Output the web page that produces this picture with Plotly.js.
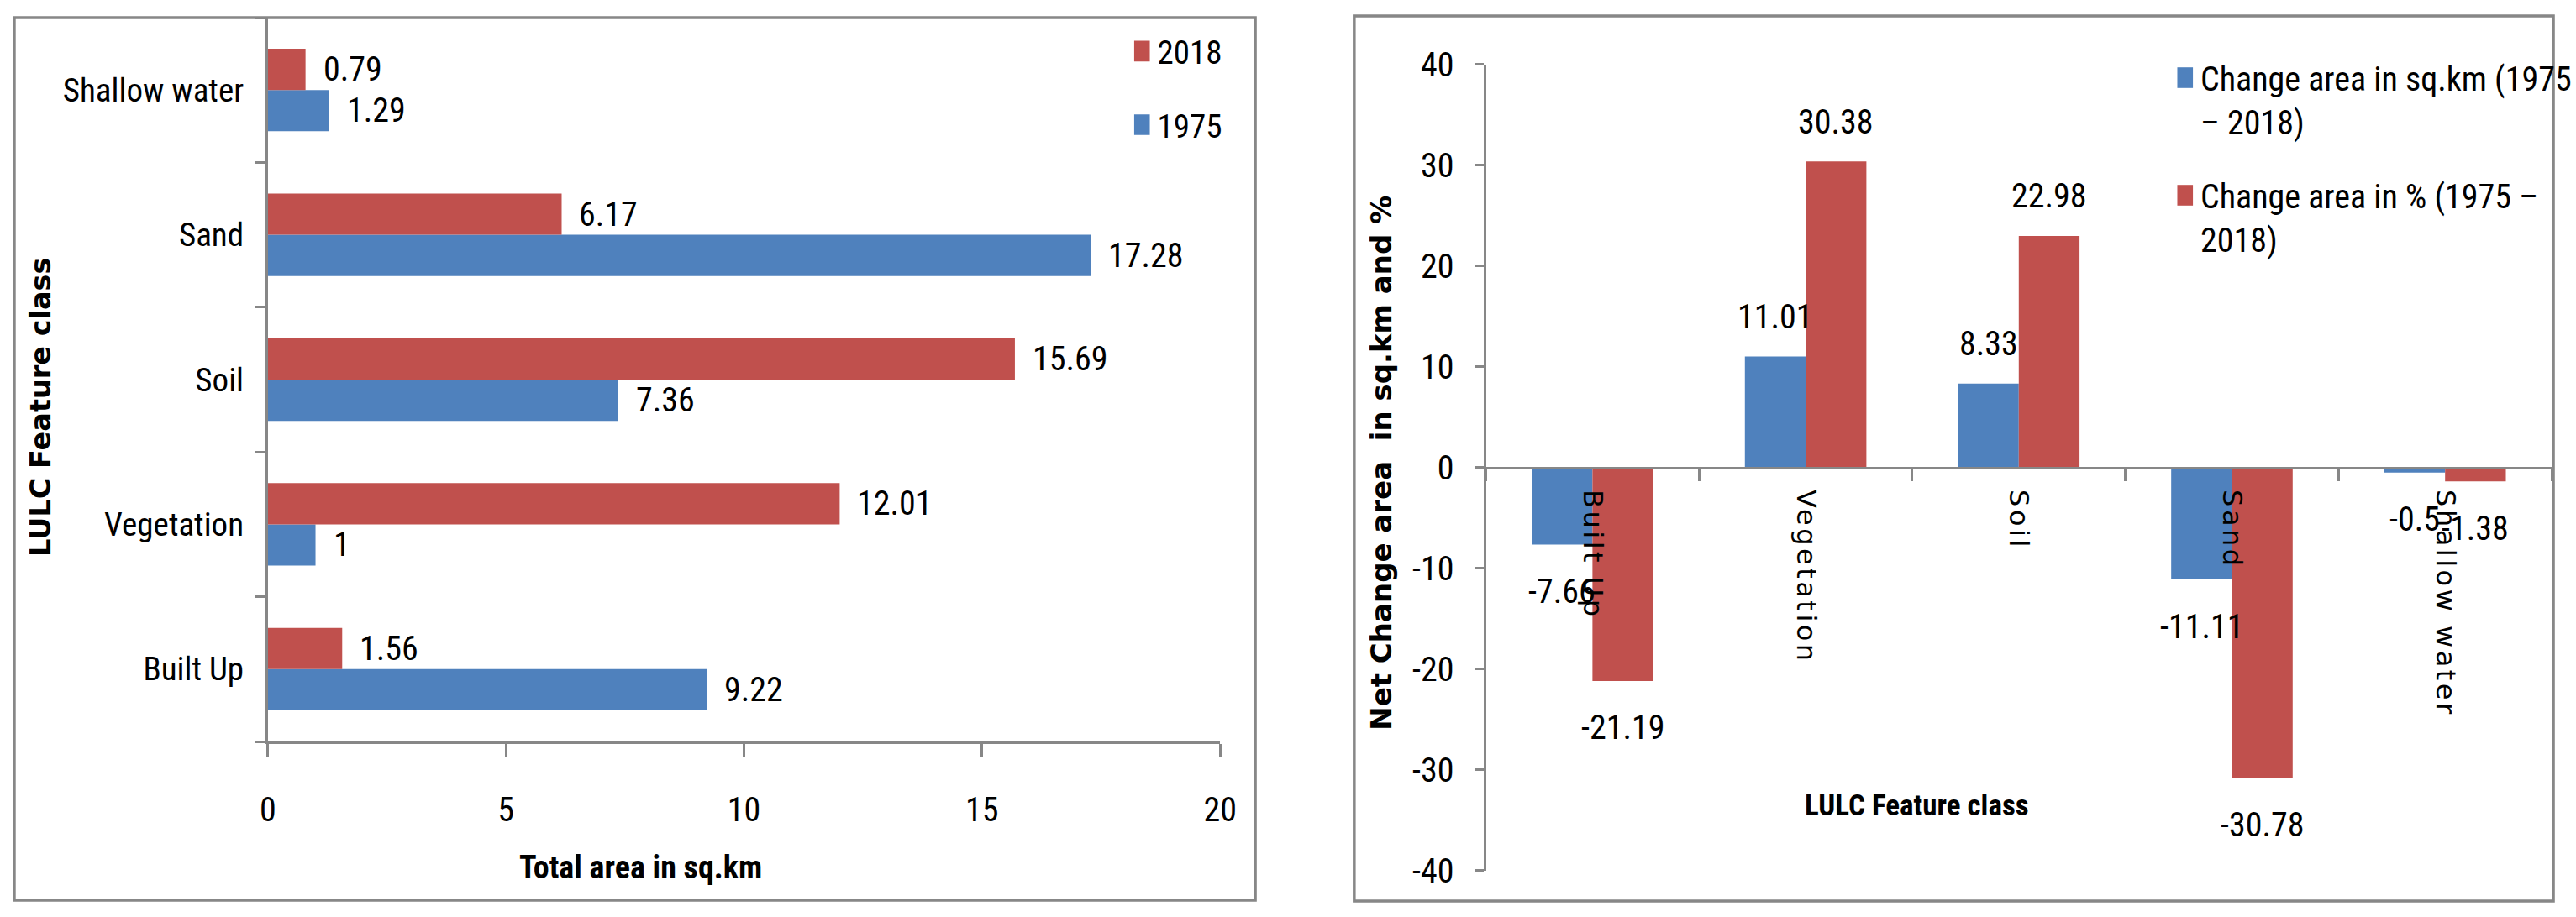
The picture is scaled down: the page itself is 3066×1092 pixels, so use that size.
<!DOCTYPE html>
<html><head><meta charset="utf-8">
<script src="https://cdn.plot.ly/plotly-3.0.1.min.js"></script>
<style>
html,body{margin:0;padding:0;background:#fff;}
#chart{width:3066px;height:1092px;}
.x2tick text{letter-spacing:3.5px;}
.legendpoints path{transform-box:fill-box;transform-origin:center;scale:1.55 2.05;}
</style></head><body><div id="chart"></div>
<script>
// ---- data ----
const categories = ["Built Up", "Vegetation", "Soil", "Sand", "Shallow water"];
const area1975 = [9.22, 1, 7.36, 17.28, 1.29];
const area2018 = [1.56, 12.01, 15.69, 6.17, 0.79];
const changeKm = [-7.66, 11.01, 8.33, -11.11, -0.5];
const changePct = [-21.19, 30.38, 22.98, -30.78, -1.38];
const leftTicks = [0, 5, 10, 15, 20];
const rightTicks = [-40, -30, -20, -10, 0, 10, 20, 30, 40];
const nameKm = "Change area in sq.km (1975<br>\u2013 2018)";
const namePct = "Change area in % (1975 \u2013<br>2018)";

// ---- style ----
const W = 3066, H = 1092;
const px = v => v / W, py = v => 1 - v / H;
const BLUE = '#4f81bd', RED = '#c0504d', AX = '#878787';
const NARROW = '"Roboto Condensed", "Noto Sans Condensed", "Liberation Sans Narrow", "DejaVu Sans Condensed", sans-serif';
const WIDE = '"DejaVu Sans", Verdana, sans-serif';
const BW = 0.43;
const off = (1 - BW) / 4;

const traces = [
  {type:'bar', orientation:'h', x:area1975, y:categories, name:'1975', marker:{color:BLUE},
   xaxis:'x', yaxis:'y', legend:'legend', legendgroup:'a', legendrank:2, hoverinfo:'skip'},
  {type:'bar', orientation:'h', x:area2018, y:categories, name:'2018', marker:{color:RED},
   xaxis:'x', yaxis:'y', legend:'legend', legendgroup:'b', legendrank:1, hoverinfo:'skip'},
  {type:'bar', x:categories, y:changeKm, name:nameKm, marker:{color:BLUE},
   xaxis:'x2', yaxis:'y2', legend:'legend2', legendgroup:'c', legendrank:1, hoverinfo:'skip'},
  {type:'bar', x:categories, y:changePct, name:namePct, marker:{color:RED},
   xaxis:'x2', yaxis:'y2', legend:'legend2', legendgroup:'d', legendrank:2, hoverinfo:'skip'}
];

const lblFont = {family:NARROW, size:40, color:'#000'};
const annotations = [];
categories.forEach((c, i) => {
  annotations.push({x:area1975[i], y:i - off, xref:'x', yref:'y', text:String(area1975[i]),
    showarrow:false, xanchor:'left', yanchor:'middle', xshift:19, font:lblFont});
  annotations.push({x:area2018[i], y:i + off, xref:'x', yref:'y', text:String(area2018[i]),
    showarrow:false, xanchor:'left', yanchor:'middle', xshift:19, font:lblFont});
  annotations.push({x:i - off, y:changeKm[i], xref:'x2', yref:'y2', text:String(changeKm[i]),
    showarrow:false, xanchor:'center', yanchor:'middle', yshift:changeKm[i] >= 0 ? 47 : -56, font:lblFont});
  annotations.push({x:i + off, y:changePct[i], xref:'x2', yref:'y2', text:String(changePct[i]),
    showarrow:false, xanchor:'center', yanchor:'middle', yshift:changePct[i] >= 0 ? 47 : -56, font:lblFont});
});
// axis titles
annotations.push({x:px(764), y:py(1033), xref:'paper', yref:'paper', text:'Total area in sq.km',
  showarrow:false, xanchor:'center', yanchor:'middle', font:{family:NARROW, size:38, weight:'bold', color:'#000'}});
annotations.push({x:px(48), y:py(485), xref:'paper', yref:'paper', text:'LULC Feature class', textangle:-90,
  showarrow:false, xanchor:'center', yanchor:'middle', font:{family:WIDE, size:33.5, weight:'bold', color:'#000'}});
annotations.push({x:px(2286), y:py(959), xref:'paper', yref:'paper', text:'LULC Feature class',
  showarrow:false, xanchor:'center', yanchor:'middle', font:{family:NARROW, size:35, weight:'bold', color:'#000'}});
annotations.push({x:px(1647), y:py(551), xref:'paper', yref:'paper', text:'Net Change area  in sq.km and %', textangle:-90,
  showarrow:false, xanchor:'center', yanchor:'middle', font:{family:WIDE, size:34, weight:'bold', color:'#000'}});

const axCommon = {showline:true, linewidth:3, linecolor:AX, ticks:'outside', tickwidth:3, tickcolor:AX,
  showgrid:false, zeroline:false, fixedrange:true};

const layout = {
  width:W, height:H, margin:{l:0, r:0, t:0, b:0},
  paper_bgcolor:'#fff', plot_bgcolor:'rgba(0,0,0,0)',
  barmode:'group', bargap:BW, bargroupgap:0,
  font:{family:NARROW, size:40, color:'#000'},
  xaxis:Object.assign({}, axCommon, {domain:[px(319.5), px(1455)], anchor:'y', range:[0, 20],
    tickmode:'array', tickvals:leftTicks, ticktext:leftTicks.map(String), ticklen:16, ticklabelstandoff:28,
    tickfont:{family:NARROW, size:40, color:'#000'}}),
  yaxis:Object.assign({}, axCommon, {domain:[py(883), py(21)], anchor:'x', type:'category',
    categoryorder:'array', categoryarray:categories, tickson:'boundaries', ticklen:12, ticklabelstandoff:18,
    tickfont:{family:NARROW, size:39, color:'#000'}}),
  xaxis2:Object.assign({}, axCommon, {domain:[px(1772), px(3043)], anchor:'free', position:py(556.7),
    type:'category', categoryorder:'array', categoryarray:categories, tickson:'boundaries', ticklen:14,
    tickangle:90, ticklabelstandoff:18, tickfont:{family:WIDE, size:32, color:'#000'}}),
  yaxis2:Object.assign({}, axCommon, {domain:[py(1036.7), py(76.7)], anchor:'x2', range:[-40, 40],
    tickmode:'array', tickvals:rightTicks, ticktext:rightTicks.map(String), ticklen:11, ticklabelstandoff:16,
    tickfont:{family:NARROW, size:40, color:'#000'}}),
  legend:{x:px(1299), y:py(29), xanchor:'left', yanchor:'top', traceorder:'grouped', tracegroupgap:34,
    itemwidth:71, valign:'top', bgcolor:'rgba(0,0,0,0)', borderwidth:0, font:{family:NARROW, size:39, color:'#000'}},
  legend2:{x:px(2543), y:py(60), xanchor:'left', yanchor:'top', traceorder:'grouped', tracegroupgap:33,
    itemwidth:71, valign:'top', bgcolor:'rgba(0,0,0,0)', borderwidth:0, font:{family:NARROW, size:40, color:'#000'}},
  shapes:[
    {type:'rect', xref:'paper', yref:'paper', x0:px(17), x1:px(1497), y0:py(1072), y1:py(21), line:{color:AX, width:3.5}},
    {type:'rect', xref:'paper', yref:'paper', x0:px(1615), x1:px(3045), y0:py(1073), y1:py(19), line:{color:AX, width:3.5}}
  ],
  annotations:annotations
};

Plotly.newPlot('chart', traces, layout, {displayModeBar:false, staticPlot:true});
</script></body></html>
